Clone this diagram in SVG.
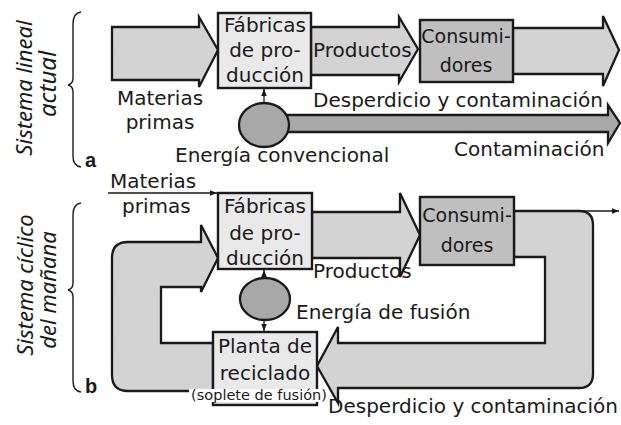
<svg xmlns="http://www.w3.org/2000/svg" width="621" height="425" viewBox="0 0 621 425">
<style>
.t{font-family:"DejaVu Sans","Liberation Sans",sans-serif;font-size:20px;fill:#1a1a1a}
.c{text-anchor:middle}
.s19{font-size:19px}
.side{font-family:"Noto Sans","Open Sans",sans-serif;font-style:italic;font-size:22px;fill:#1a1a1a;text-anchor:middle}
.lbl{font-family:"Liberation Sans",Arial,sans-serif;font-weight:bold;font-size:20px;fill:#1a1a1a}
.arr{fill:#d3d3d3;stroke:#1a1a1a;stroke-width:2.3;stroke-linejoin:miter}
.dark{fill:#a8a8a8;stroke:#1a1a1a;stroke-width:2.3}
.boxl{fill:#e9e9e9;stroke:#1a1a1a;stroke-width:2.4}
.boxd{fill:#bfbfbf;stroke:#1a1a1a;stroke-width:2.4}
.thin{fill:none;stroke:#1a1a1a;stroke-width:1.3}
.brace{fill:none;stroke:#1a1a1a;stroke-width:1.4}
</style>
<defs>
<marker id="ah" viewBox="0 0 10 10" refX="10" refY="5" markerWidth="7" markerHeight="7" markerUnits="userSpaceOnUse" orient="auto">
<path d="M0,1 L10,5 L0,9 Z" fill="#1a1a1a"/>
</marker>
</defs>

<!-- side labels -->
<g id="side-a">
<text class="side" transform="translate(32,88) rotate(-90)">Sistema lineal</text>
<text class="side" transform="translate(56,84) rotate(-90)" style="font-size:24px">actual</text>
<path class="brace" d="M81,12 Q73,13 73,24 L73,78 Q73,84 68,85 Q73,86 73,92 L73,156 Q73,166 81,167"/>
<text class="lbl" x="85" y="167">a</text>
</g>
<g id="side-b">
<text class="side" transform="translate(33,285) rotate(-90)">Sistema cíclico</text>
<text class="side" transform="translate(56,290) rotate(-90)">del mañana</text>
<path class="brace" d="M81,203 Q73,204 73,215 L73,283 Q73,289 68,290 Q73,291 73,297 L73,381 Q73,391 81,392"/>
<text class="lbl" x="85" y="393">b</text>
</g>

<!-- connectors -->
<g id="connectors">
<!-- a -->
<polygon class="arr" points="112,27 199,27 199,17 218,50 199,87 199,80 112,80"/>
<polygon class="arr" points="311,27 399,27 399,17 418,49 399,82 399,75 311,75"/>
<polygon class="arr" points="513,28 603,28 603,16 619,50 603,86 603,74 513,74"/>
<polygon class="dark" points="265,115 608,115 608,105 620,123 608,143 608,132 265,132"/>
<line class="thin" x1="264" y1="103" x2="264" y2="89" marker-end="url(#ah)"/>
<!-- b -->
<line class="thin" x1="108" y1="193" x2="217" y2="193" marker-end="url(#ah)"/>
<polygon class="arr" points="312,212 400,212 400,193 420,235 400,277 400,258 312,258"/>
<path class="arr" d="M514,211 L579,211 Q593,211 593,225 L593,374 Q593,388 579,388 L338,388 L338,403 L317,366 L338,327 L338,343 L545,343 L545,257 L514,257 Z"/>
<path class="arr" d="M213,391 L128,391 Q112,391 112,375 L112,258 Q112,242 128,242 L201,242 L201,225 L218,258 L201,292 L201,287 L161,287 L161,343 L213,343 Z"/>
<line class="thin" x1="514" y1="211" x2="619" y2="211" marker-end="url(#ah)"/>
<line class="thin" x1="264" y1="278" x2="264" y2="270" marker-end="url(#ah)"/>
<line class="thin" x1="264" y1="320" x2="264" y2="331" marker-end="url(#ah)"/>
</g>

<!-- nodes a -->
<g id="fabricas-a">
<rect class="boxl" x="218" y="13" width="93" height="75"/>
<text class="t c" x="265" y="32">Fábricas</text>
<text class="t c" x="265" y="57">de pro-</text>
<text class="t c" x="265" y="82">ducción</text>
</g>
<g id="consumidores-a">
<rect class="boxd" x="420" y="20" width="93" height="62"/>
<text class="t c s19" x="466" y="43">Consumi-</text>
<text class="t c s19" x="466" y="72">dores</text>
</g>
<g id="energia-a">
<ellipse class="dark" cx="264" cy="125" rx="25" ry="22"/>
</g>

<!-- nodes b -->
<g id="fabricas-b">
<rect class="boxl" x="218" y="193" width="94" height="76"/>
<text class="t c" x="265" y="213">Fábricas</text>
<text class="t c" x="265" y="240">de pro-</text>
<text class="t c" x="265" y="265">ducción</text>
</g>
<g id="consumidores-b">
<rect class="boxd" x="420" y="197" width="94" height="68"/>
<text class="t c s19" x="467" y="222">Consumi-</text>
<text class="t c s19" x="467" y="252">dores</text>
</g>
<g id="energia-b">
<ellipse class="dark" cx="265" cy="299" rx="25" ry="21"/>
</g>
<g id="planta">
<rect class="boxl" x="213" y="332" width="104" height="73"/>
<rect x="189" y="389" width="140" height="13" fill="#ffffff"/>
<text class="t c" x="265" y="353">Planta de</text>
<text class="t c" x="265" y="380">reciclado</text>
<text class="t c" x="259" y="400" style="font-size:14.5px">(soplete de fusión)</text>
</g>

<!-- free labels -->
<g id="labels">
<text class="t c" x="160" y="105">Materias</text>
<text class="t c" x="160" y="129">primas</text>
<text class="t" x="313" y="57">Productos</text>
<text class="t" x="313" y="107">Desperdicio y contaminación</text>
<text class="t" x="175" y="162">Energía convencional</text>
<text class="t" x="454" y="156">Contaminación</text>
<text class="t" x="110" y="188">Materias</text>
<text class="t" x="122" y="213">primas</text>
<text class="t" x="313" y="278">Productos</text>
<text class="t" x="296" y="319">Energía de fusión</text>
<text class="t" x="328" y="413">Desperdicio y contaminación</text>
</g>
</svg>
